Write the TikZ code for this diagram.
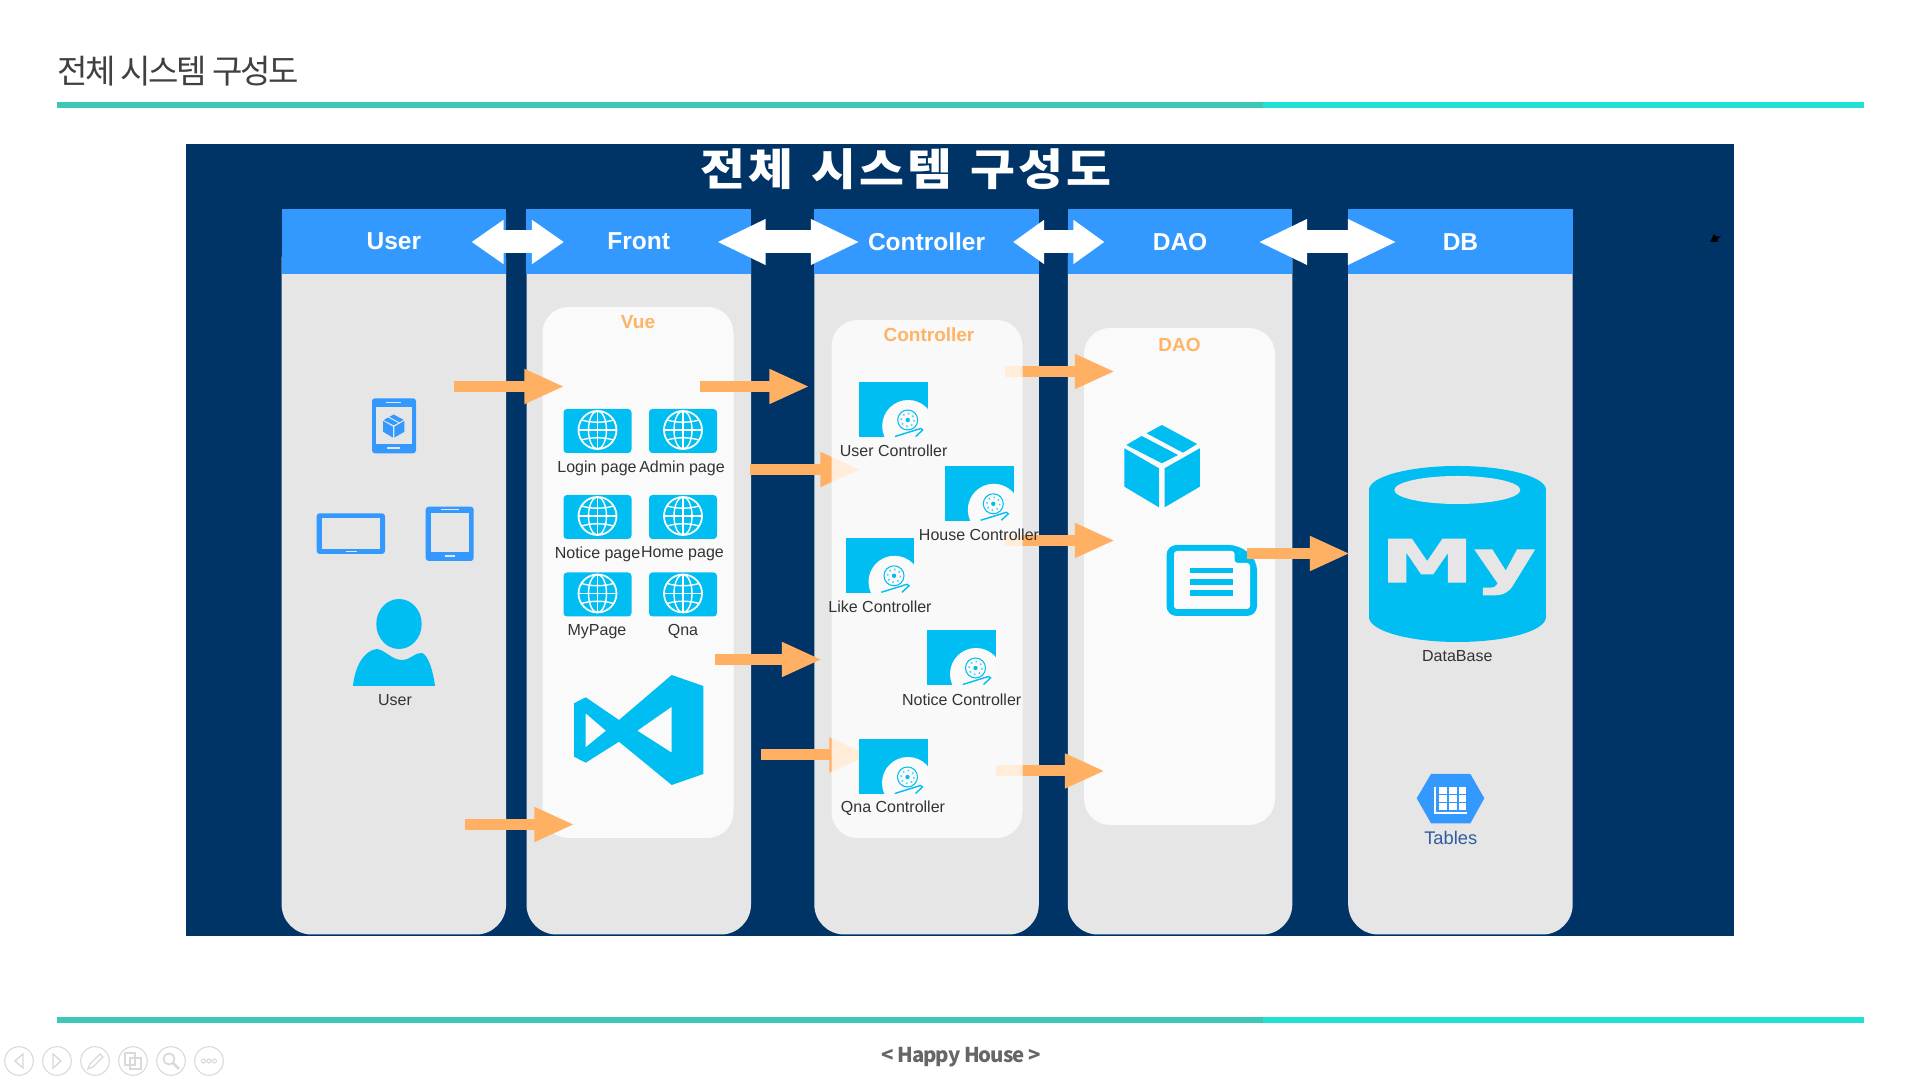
\documentclass[tikz,border=0pt]{standalone}
\usepackage{fontspec}
\setmainfont{Liberation Sans}
\newfontfamily\krwide[FakeStretch=1.12,LetterSpace=7]{Noto Sans CJK KR}
\newfontfamily\krtight[LetterSpace=-7.5]{Noto Sans CJK KR}
\newfontfamily\footfont[LetterSpace=-5]{Noto Sans CJK KR}
\newfontfamily\logofont[BoldFeatures={FakeBold=1.5}]{DejaVu Sans}
\usetikzlibrary{arrows.meta}
\definecolor{navybg}{HTML}{003366}
\definecolor{headblue}{HTML}{3399FF}
\definecolor{colgray}{HTML}{E6E6E6}
\definecolor{innerwhite}{HTML}{FAFAFA}
\definecolor{iconcyan}{HTML}{00BEF2}
\definecolor{arroworange}{HTML}{FFB062}
\definecolor{labelorange}{HTML}{FFB366}
\definecolor{labeldark}{HTML}{333333}
\definecolor{tablelblue}{HTML}{2E5C9E}
\definecolor{tealleft}{HTML}{3CC8B4}
\definecolor{tealright}{HTML}{22E0D6}
\definecolor{navgray}{HTML}{D9D9D9}
\tikzset{
    colhead/.style={fill=headblue, text=white, minimum width=2.245cm, minimum height=.65cm, inner sep=0pt, font=\fontsize{6.97}{8}\selectfont\bfseries},
    innerlbl/.style={text=labelorange, inner sep=0pt, font=\fontsize{5.4}{6}\selectfont\bfseries},
    iconlbl/.style={text=labeldark, inner sep=0pt, font=\fontsize{4.55}{5}\selectfont},
    orangearrow/.style={-{Triangle[length=.40cm,width=.32cm]}, line width=.11cm, draw=arroworange},
    whitearrow/.style={{Triangle[length=#1,width=.42cm]}-{Triangle[length=#1,width=.42cm]}, line width=.23cm, draw=white},
    globetile/.pic={
        \fill[iconcyan, rounded corners=1] (-34,-22) rectangle (34,22);
        \draw[white, line width=.5pt] (0,-1) circle (19);
        \draw[white, line width=.4pt] (0,-1) ellipse (9 and 19);
        \draw[white, line width=.4pt] (0,-20) -- (0,18);
        \draw[white, line width=.4pt] (-19,-1) -- (19,-1);
        \draw[white, line width=.4pt] (-16,-11) .. controls (-6,-8) and (6,-8) .. (16,-11);
        \draw[white, line width=.4pt] (-16,9) .. controls (-6,6) and (6,6) .. (16,9);
    },
    ctrltile/.pic={
        \fill[iconcyan] (-34.3,-27.5) rectangle (34.3,27.5);
        \begin{scope}
            \clip (-34.5,-28) rectangle (34.5,28);
            \fill[innerwhite] (14.5,16.5) circle (26);
            \fill[innerwhite] (14.5,16.5) rectangle (35,28);
        \end{scope}
        \draw[iconcyan, line width=.3pt] (14,10.5) circle (10);
        \draw[iconcyan!70, line width=.45pt, densely dotted] (14,10.5) circle (6.5);
        \fill[iconcyan] (14,10.5) circle (2.2);
        \draw[iconcyan, line width=.4pt] (1.3,27) -- (27,19) -- (29,20.5) -- (22,27);
    },
    boxicon/.pic={
        \fill[pic actions] (-37.6,-17.7) -- (-3.1,2.3) -- (-3.1,41.3) -- (-37.6,20.7) -- cycle;
        \fill[pic actions] (2.6,2.3) -- (37.8,-17.7) -- (37.8,20.7) -- (2.6,41.3) -- cycle;
        \fill[pic actions] (-.1,-41) -- (35.1,-22) -- (21,-13.3) -- (-15.4,-32.7) -- cycle;
        \fill[pic actions] (-20.3,-30) -- (16,-11) -- (-.1,-2.7) -- (-35.7,-21) -- cycle;
    }
}
\begin{document}
\begin{tikzpicture}[x=.01cm, y=-.01cm]
    \useasboundingbox (0,0) rectangle (1920,1080);
    \fill[white] (0,0) rectangle (1920,1080);
    % Slide title and rules
    \node[anchor=west, inner sep=0pt, text=black!75, font=\fontsize{9.4}{11}\selectfont\krtight] (slidetitle) at (57,71) {전체 시스템 구성도};
    \fill[tealleft] (57,102) rectangle (1263,108);
    \fill[tealright] (1263,102) rectangle (1864,108);
    \fill[tealleft] (57,1017) rectangle (1263,1023);
    \fill[tealright] (1263,1017) rectangle (1864,1023);
    \node[inner sep=0pt, text=black!60, font=\fontsize{5.8}{7}\selectfont\footfont\bfseries] (slidefoot) at (961,1057) {< Happy House >};
    % Slide navigation
    \foreach \navx in {19,57,95,133,171,209}
        \draw[navgray, line width=.3pt] (\navx,1061) circle (14.3);
    \draw[navgray, line width=.4pt] (23,1054) -- (15,1061) -- (23,1068) -- cycle;
    \draw[navgray, line width=.4pt] (53,1054) -- (61,1061) -- (53,1068) -- cycle;
    \draw[navgray, line width=.35pt] (88,1069) -- (90,1064) -- (100,1054) -- (103,1057) -- (93,1067) -- cycle;
    \draw[navgray, line width=.4pt] (125,1053) rectangle (135,1065);
    \draw[navgray, line width=.4pt] (130,1058) rectangle (141,1069);
    \draw[navgray, line width=.5pt] (169,1059) circle (5.5);
    \draw[navgray, line width=.8pt] (173,1063) -- (179,1069);
    \foreach \navx in {203.5,209,214.5}
        \draw[navgray, line width=.3pt] (\navx,1061) circle (2);
    % Navy panel
    \fill[navybg] (186,144.5) rectangle (1734,936);
    \node[inner sep=0pt, text=white, font=\fontsize{12.4}{14}\selectfont\krwide\bfseries] (maintitle) at (906,169) {전체\hspace{1pt} 시스템\hspace{1pt} 구성도};
    \fill[black] (1710,242) -- (1714,234) -- (1716,236.5) -- (1721,236.5) -- (1717.5,239) -- (1717.5,242) -- cycle;
    % Columns
    \foreach \colx in {281.6,526.5,814.3,1067.8,1348.2}
        \fill[colgray, rounded corners=.3cm] (\colx,230) rectangle ++(224.5,704.5);
    \node[colhead] (headuser) at (393.85,241.7) {User};
    \node[colhead] (headfront) at (638.75,241.7) {Front};
    \node[colhead] (headctrl) at (926.55,241.7) {Controller};
    \node[colhead] (headdao) at (1180.05,241.7) {DAO};
    \node[colhead] (headdb) at (1460.45,241.7) {DB};
    % Inner panels
    \fill[innerwhite, rounded corners=.26cm] (542.5,307) rectangle (733.5,838);
    \fill[innerwhite, rounded corners=.26cm] (1084,328) rectangle (1275,825);
    % Document icon
    \fill[iconcyan, rounded corners=.1cm] (1166.5,545) -- (1239,545) -- (1257,560) -- (1257,616) -- (1166.5,616) -- cycle;
    \fill[innerwhite, rounded corners=.03cm] (1174,551) -- (1234.6,551) -- (1234.6,563) -- (1250,563) -- (1250,609) -- (1174,609) -- cycle;
    \fill[iconcyan] (1189.5,567.7) rectangle (1232.7,573.3);
    \fill[iconcyan] (1189.5,578.7) rectangle (1232.7,585);
    \fill[iconcyan] (1189.5,590) rectangle (1232.7,596);
    % Orange arrows
    \coordinate (usertop) at (454,386.5);
    \coordinate (vuetop) at (564.5,386.5);
    \draw[orangearrow] (usertop) -- (vuetop);
    \coordinate (fronttop) at (700,386.5);
    \coordinate (ctrltop) at (809.5,386.5);
    \draw[orangearrow] (fronttop) -- (ctrltop);
    \coordinate (frontsec) at (750,469.5);
    \coordinate (ctrlsec) at (860.5,469.5);
    \draw[orangearrow] (frontsec) -- (ctrlsec);
    \coordinate (frontthird) at (714.5,659.5);
    \coordinate (ctrlthird) at (822,659.5);
    \draw[orangearrow] (frontthird) -- (ctrlthird);
    \coordinate (frontlow) at (760.5,755);
    \coordinate (ctrllow) at (869.5,755);
    \draw[orangearrow] (frontlow) -- (ctrllow);
    \coordinate (userlow) at (464.5,824.5);
    \coordinate (vuelow) at (574.5,824.5);
    \draw[orangearrow] (userlow) -- (vuelow);
    \coordinate (ctrlout) at (1004.5,371.5);
    \coordinate (daotop) at (1115,371.5);
    \draw[orangearrow] (ctrlout) -- (daotop);
    \coordinate (ctrlmid) at (1004.5,540.5);
    \coordinate (daomid) at (1115,540.5);
    \draw[orangearrow] (ctrlmid) -- (daomid);
    \coordinate (ctrlend) at (995.5,771);
    \coordinate (daoend) at (1105,771);
    \draw[orangearrow] (ctrlend) -- (daoend);
    \coordinate (docout) at (1247,553.5);
    \coordinate (dbin) at (1350,553.5);
    \draw[orangearrow] (docout) -- (dbin);
    % White arrows
    \coordinate (wa) at (471.5,242);
    \coordinate (wb) at (564,242);
    \draw[whitearrow=.32cm] (wa) -- (wb);
    \coordinate (wc) at (716.5,242);
    \coordinate (wd) at (860,242);
    \draw[whitearrow=.49cm] (wc) -- (wd);
    \coordinate (we) at (1013,242);
    \coordinate (wf) at (1104.5,242);
    \draw[whitearrow=.31cm] (we) -- (wf);
    \coordinate (wg) at (1258,242);
    \coordinate (wh) at (1397,242);
    \draw[whitearrow=.49cm] (wg) -- (wh);
    % Controller panel lies over the arrows
    \fill[white, opacity=.76, rounded corners=.26cm] (831.5,320) rectangle (1022.5,838);
    \node[innerlbl] (vuelbl) at (638,322.5) {Vue};
    \node[innerlbl] (ctrllbl) at (929,334.5) {Controller};
    \node[innerlbl] (daolbl) at (1179.5,344.5) {DAO};
    % User column
    \fill[headblue, rounded corners=.03cm] (372,398.3) rectangle (416,453.3);
    \fill[colgray] (376,406.7) rectangle (412.3,444.3);
    \draw[colgray, line width=.4pt] (386,402.3) -- (401.3,402.3);
    \draw[colgray, line width=.6pt] (387.3,448.3) -- (400,448.3);
    \pic[fill=headblue, scale=.28] at (393.7,426) {boxicon};
    \fill[headblue, rounded corners=.03cm] (316.7,513.3) rectangle (385,554);
    \fill[colgray] (322,518) rectangle (380,549.3);
    \draw[colgray, line width=.4pt] (345.7,551.7) -- (356.7,551.7);
    \fill[headblue, rounded corners=.03cm] (425.7,506.7) rectangle (473.7,561);
    \fill[colgray] (430.7,512.7) rectangle (469,551.7);
    \draw[colgray, line width=.4pt] (440.7,509.7) -- (459,509.7);
    \draw[colgray, line width=.5pt] (444.7,556) -- (455.3,556);
    \fill[iconcyan] (399,624) ellipse (22.7 and 25);
    \fill[iconcyan] (353,686) .. controls (355,665) and (365,650) .. (377,649) .. controls (385,650) and (392,660) .. (402,660) .. controls (411,660) and (415,652) .. (422,653) .. controls (428,655) and (433,670) .. (435,686) -- cycle;
    \node[iconlbl] (userlbl) at (395,700.5) {User};
    % Front column
    \foreach \tilex/\tiley in {597.5/431,683/431,597.5/517,683/517,597.5/594.5,683/594.5}
        \pic at (\tilex,\tiley) {globetile};
    \node[iconlbl] (loginlbl) at (597,468.5) {Login page};
    \node[iconlbl] (adminlbl) at (682,468.5) {Admin page};
    \node[iconlbl] (noticelbl) at (597.5,554) {Notice page};
    \node[iconlbl] (homelbl) at (682.5,554) {Home page};
    \node[iconlbl] (mypagelbl) at (597,632) {MyPage};
    \node[iconlbl] (qnalbl) at (683,631.5) {Qna};
    \fill[iconcyan, even odd rule] (574,703.3) -- (585.7,697.3) -- (619,720) -- (671.7,675) -- (703.3,686) -- (703.3,774) -- (671.7,785) -- (619,741.7) -- (585.7,762.7) -- (574,756.7) -- cycle
        (585.7,713.3) -- (606,730.7) -- (585.7,747.3) -- cycle
        (671.7,706.7) -- (637.3,730.7) -- (671.7,752.7) -- cycle;
    % Controller column
    \foreach \tilex/\tiley in {893.7/409.5,979.3/493.3,880/565.3,961.5/657.5,893.5/766.5}
        \pic at (\tilex,\tiley) {ctrltile};
    \node[iconlbl] (userctrl) at (893.7,451) {User Controller};
    \node[iconlbl] (housectrl) at (979,535) {House Controller};
    \node[iconlbl] (likectrl) at (880,607) {Like Controller};
    \node[iconlbl] (noticectrl) at (961.7,699.5) {Notice Controller};
    \node[iconlbl] (qnactrl) at (893,808.5) {Qna Controller};
    % DAO column
    \pic[fill=iconcyan] at (1162,466) {boxicon};
    % DB column
    \fill[iconcyan] (1457.5,490) ellipse (88.5 and 24);
    \fill[iconcyan] (1457.5,617) ellipse (88.5 and 25);
    \fill[iconcyan] (1369,490) rectangle (1546,617);
    \fill[colgray] (1457.3,490) ellipse (63 and 14);
    \node[inner sep=0pt, text=colgray, xscale=1.6, transform shape, font=\fontsize{16.8}{18}\selectfont\logofont\bfseries] (mylogo) at (1458,567) {My};
    \node[iconlbl] (dblbl) at (1457.3,656.5) {DataBase};
    \fill[headblue] (1416.7,798.3) -- (1431,774) -- (1470.4,774) -- (1484.3,798.3) -- (1470.4,823.3) -- (1431,823.3) -- cycle;
    \foreach \cellx in {1439.3,1449,1458.7}
        \foreach \celly in {787.3,795.3,803.3}
            \fill[white] (\cellx,\celly) rectangle ++(7.7,6.5);
    \draw[white, line width=.3pt] (1435,786.7) -- (1435,813) -- (1467.3,813);
    \node[iconlbl, text=tablelblue, font=\fontsize{5.2}{6}\selectfont] (tablelbl) at (1450.7,837.5) {Tables};
\end{tikzpicture}
\end{document}
